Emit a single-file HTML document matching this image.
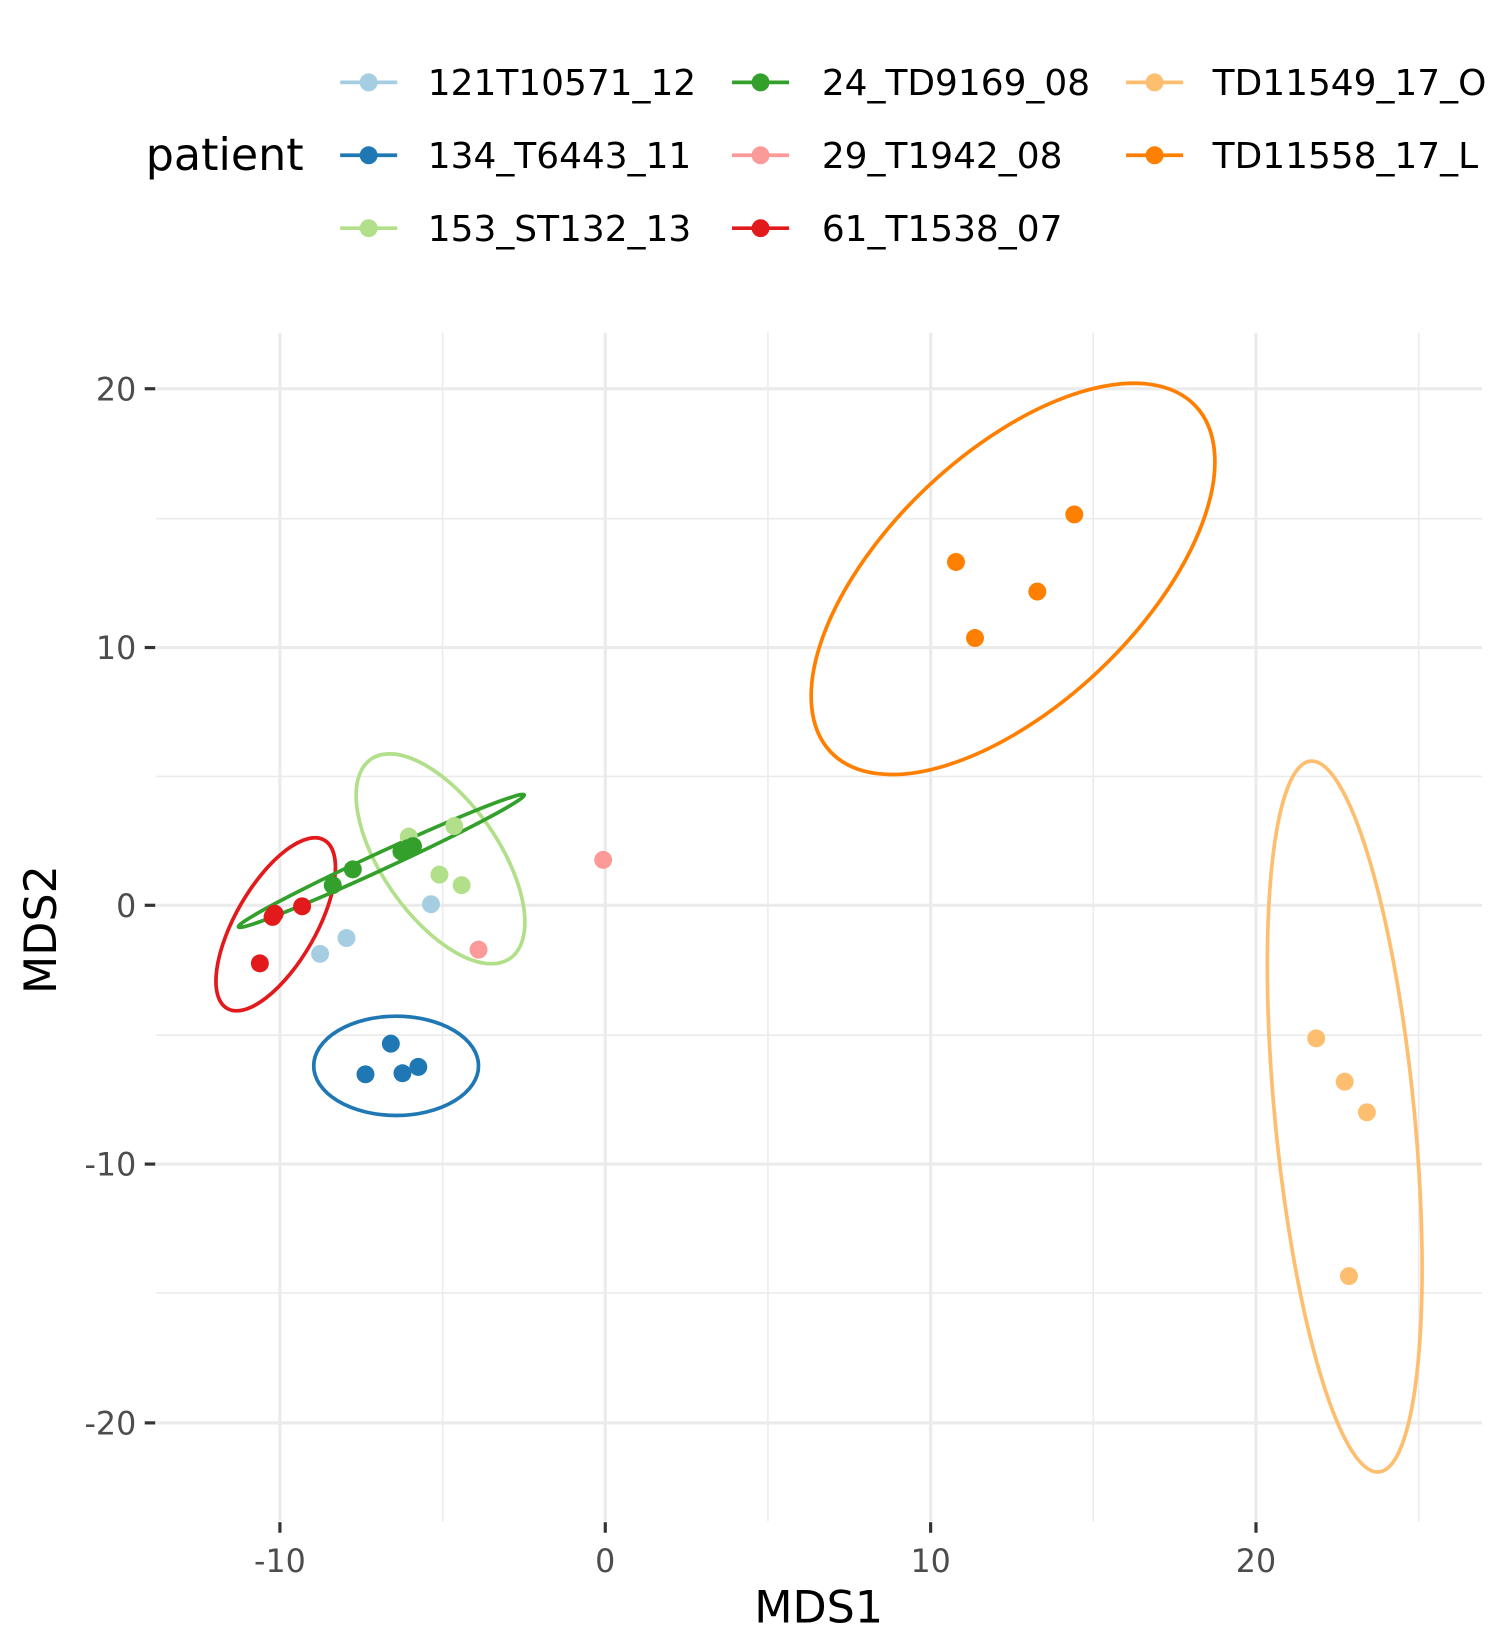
<!DOCTYPE html>
<html><head><meta charset="utf-8"><style>html,body{margin:0;padding:0;background:#fff}svg{display:block}</style></head>
<body>
<svg width="1500" height="1650" viewBox="0 0 1420 1562" preserveAspectRatio="none" xmlns="http://www.w3.org/2000/svg" font-family="'DejaVu Sans','Liberation Sans',sans-serif">
<rect width="1420" height="1562" fill="#fff"/>
<g stroke="#ebebeb" stroke-width="1.5">
<line x1="148" x2="1403" y1="491" y2="491"/><line x1="148" x2="1403" y1="735" y2="735"/><line x1="148" x2="1403" y1="980" y2="980"/><line x1="148" x2="1403" y1="1224" y2="1224"/>
<line y1="315" y2="1440" x1="419" x2="419"/><line y1="315" y2="1440" x1="727" x2="727"/><line y1="315" y2="1440" x1="1035" x2="1035"/><line y1="315" y2="1440" x1="1343" x2="1343"/>
</g>
<g stroke="#ebebeb" stroke-width="3">
<line x1="148" x2="1403" y1="368" y2="368"/><line x1="148" x2="1403" y1="613" y2="613"/><line x1="148" x2="1403" y1="857" y2="857"/><line x1="148" x2="1403" y1="1102" y2="1102"/><line x1="148" x2="1403" y1="1347" y2="1347"/>
<line y1="315" y2="1440" x1="265" x2="265"/><line y1="315" y2="1440" x1="573" x2="573"/><line y1="315" y2="1440" x1="881" x2="881"/><line y1="315" y2="1440" x1="1189" x2="1189"/>
</g>
<g stroke="#333" stroke-width="3">
<line x1="137" x2="147" y1="368" y2="368"/><line x1="137" x2="147" y1="613" y2="613"/><line x1="137" x2="147" y1="857" y2="857"/><line x1="137" x2="147" y1="1102" y2="1102"/><line x1="137" x2="147" y1="1347" y2="1347"/>
<line y1="1441" y2="1451" x1="265" x2="265"/><line y1="1441" y2="1451" x1="573" x2="573"/><line y1="1441" y2="1451" x1="881" x2="881"/><line y1="1441" y2="1451" x1="1189" x2="1189"/>
</g>
<g fill="#4d4d4d" font-size="30" text-anchor="end">
<text x="129" y="379">20</text><text x="129" y="624">10</text><text x="129" y="868">0</text><text x="129" y="1113">-10</text><text x="129" y="1358">-20</text>
</g>
<g fill="#4d4d4d" font-size="30" text-anchor="middle">
<text x="265" y="1488">-10</text><text x="573" y="1488">0</text><text x="881" y="1488">10</text><text x="1189" y="1488">20</text>
</g>
<text x="775" y="1536" font-size="42" text-anchor="middle" fill="#000">MDS1</text>
<text transform="translate(53,880) rotate(-90)" font-size="42" text-anchor="middle" fill="#000">MDS2</text>

<g fill="none" stroke-width="3.5">
<ellipse cx="375" cy="1009" rx="78" ry="47" stroke="#1f78b4"/>
<ellipse cx="0" cy="0" rx="115" ry="55" stroke="#b2df8a" transform="translate(417,813) rotate(55)"/>
<ellipse cx="0" cy="0" rx="92" ry="38" stroke="#e31a1c" transform="translate(261,875) rotate(-60)"/>
<ellipse cx="0" cy="0" rx="149" ry="8" stroke="#33a02c" transform="translate(361,815) rotate(-24.8)"/>
<ellipse cx="0" cy="0" rx="66" ry="338" stroke="#fdbf6f" transform="translate(1273,1057) rotate(-5.5)"/>
<ellipse cx="0" cy="0" rx="238" ry="119" stroke="#ff7f00" transform="translate(959,548) rotate(-43.5)"/>
</g>
<g>
<g fill="#a6cee3"><circle cx="303" cy="903" r="8.5"/><circle cx="328" cy="888" r="8.5"/><circle cx="408" cy="856" r="8.5"/></g>
<g fill="#1f78b4"><circle cx="370" cy="988" r="8.5"/><circle cx="346" cy="1017" r="8.5"/><circle cx="381" cy="1016" r="8.5"/><circle cx="396" cy="1010" r="8.5"/></g>
<g fill="#b2df8a"><circle cx="387" cy="792" r="8.5"/><circle cx="430" cy="782" r="8.5"/><circle cx="416" cy="828" r="8.5"/><circle cx="437" cy="838" r="8.5"/></g>
<g fill="#33a02c"><circle cx="315" cy="838" r="8.5"/><circle cx="334" cy="823" r="8.5"/><circle cx="380" cy="806" r="8.5"/><circle cx="391" cy="801" r="8.5"/><circle cx="386" cy="803" r="8.5"/></g>
<g fill="#e31a1c"><circle cx="246" cy="912" r="8.5"/><circle cx="258" cy="868" r="8.5"/><circle cx="286" cy="858" r="8.5"/><circle cx="260" cy="865" r="8.5"/></g>
<g fill="#fb9a99"><circle cx="571" cy="814" r="8.5"/><circle cx="453" cy="899" r="8.5"/></g>
<g fill="#fdbf6f"><circle cx="1246" cy="983" r="8.5"/><circle cx="1273" cy="1024" r="8.5"/><circle cx="1294" cy="1053" r="8.5"/><circle cx="1277" cy="1208" r="8.5"/></g>
<g fill="#ff7f00"><circle cx="905" cy="532" r="8.5"/><circle cx="1017" cy="487" r="8.5"/><circle cx="982" cy="560" r="8.5"/><circle cx="923" cy="604" r="8.5"/></g>
</g>

<text x="138" y="161" font-size="42" fill="#000">patient</text>
<g stroke-width="3.5">
<line x1="322" x2="376" y1="78" y2="78" stroke="#a6cee3"/><circle cx="349" cy="78" r="8.5" fill="#a6cee3"/>
<line x1="322" x2="376" y1="147" y2="147" stroke="#1f78b4"/><circle cx="349" cy="147" r="8.5" fill="#1f78b4"/>
<line x1="322" x2="376" y1="216" y2="216" stroke="#b2df8a"/><circle cx="349" cy="216" r="8.5" fill="#b2df8a"/>
<line x1="693" x2="747" y1="78" y2="78" stroke="#33a02c"/><circle cx="720" cy="78" r="8.5" fill="#33a02c"/>
<line x1="693" x2="747" y1="147" y2="147" stroke="#fb9a99"/><circle cx="720" cy="147" r="8.5" fill="#fb9a99"/>
<line x1="693" x2="747" y1="216" y2="216" stroke="#e31a1c"/><circle cx="720" cy="216" r="8.5" fill="#e31a1c"/>
<line x1="1066" x2="1120" y1="78" y2="78" stroke="#fdbf6f"/><circle cx="1093" cy="78" r="8.5" fill="#fdbf6f"/>
<line x1="1066" x2="1120" y1="147" y2="147" stroke="#ff7f00"/><circle cx="1093" cy="147" r="8.5" fill="#ff7f00"/>
</g>
<g font-size="34" fill="#000">
<text x="405" y="90">121T10571_12</text><text x="405" y="159">134_T6443_11</text><text x="405" y="228">153_ST132_13</text>
<text x="778" y="90">24_TD9169_08</text><text x="778" y="159">29_T1942_08</text><text x="778" y="228">61_T1538_07</text>
<text x="1148" y="90">TD11549_17_O</text><text x="1148" y="159">TD11558_17_L</text>
</g>
</svg>
</body></html>
